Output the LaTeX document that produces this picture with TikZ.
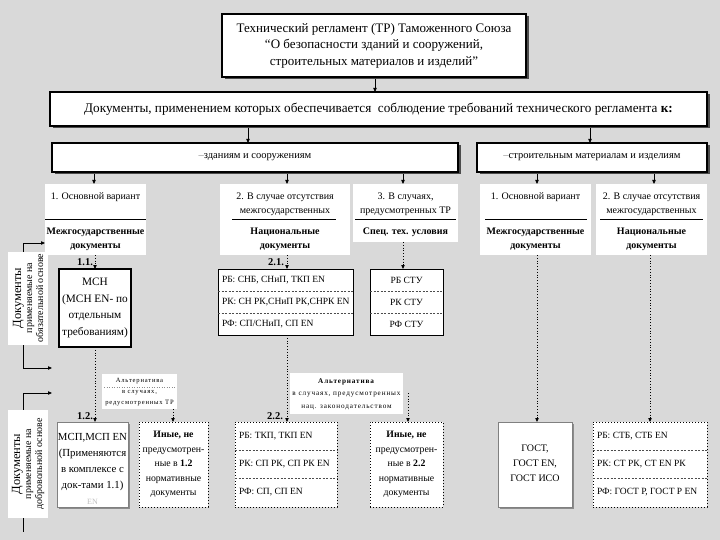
\documentclass[tikz,border=0pt]{standalone}
\usepackage{fontspec}
\setmainfont{Liberation Serif}
\usetikzlibrary{arrows.meta,shadows}
\definecolor{bgc}{RGB}{217,217,217}
\pgfdeclarelayer{bglayer}
\pgfdeclarelayer{linelayer}
\pgfsetlayers{bglayer,linelayer,main}
\newcommand{\myfs}[2]{\fontsize{#1}{#2}\selectfont}
\begin{document}
\begin{tikzpicture}[x=1pt,y=-1pt,
  every node/.style={inner sep=0pt, outer sep=0pt},
  shd/.style={drop shadow={shadow xshift=2.5pt, shadow yshift=-2.5pt, fill=black!70, opacity=1}},
  bigbox/.style={draw=black, line width=1.3pt, fill=white, shd},
  wbox/.style={fill=white},
  thinbox/.style={draw=black, line width=0.7pt, fill=white},
  greybox/.style={draw=black!50, line width=0.6pt, fill=white, drop shadow={shadow xshift=1.5pt, shadow yshift=-1.5pt, fill=black!45, opacity=1}},
  dbox/.style={draw=black, dotted, line width=1pt, fill=white},
  tip/.style={-{Triangle[length=4pt,width=3.4pt]}},
  sol/.style={tip, line width=0.8pt},
  dts/.style={tip, line width=0.8pt, dotted},
  sepl/.style={line width=0.7pt},
  dsep/.style={dashed, dash pattern=on 2pt off 1.5pt, line width=0.5pt, black!70},
  tx/.style={font=\myfs{10}{14}, align=center},
  numlab/.style={font=\bfseries\myfs{10.5}{12}},
  altx/.style={font=\addfontfeature{LetterSpace=12}\myfs{6.6}{11}, align=center},
]
\useasboundingbox (0,0) rectangle (720,540);
\begin{pgfonlayer}{bglayer}
  \fill[bgc] (0,0) rectangle (720,540);
\end{pgfonlayer}

% ---------- top boxes ----------
\node[bigbox, minimum width=304, minimum height=63] (top) at (374,45.5) {};
\node[font=\myfs{13}{16.5}, align=center] (toptext) at (top) {Технический регламент (ТР) Таможенного Союза\\“О безопасности зданий и сооружений,\\строительных материалов и изделий”};

\node[bigbox, minimum width=657, minimum height=34, font=\myfs{13.2}{15}] (doc) at (378.5,109)
  {Документы, применением которых обеспечивается\ \ соблюдение требований технического регламента \textbf{к:}};

\node[bigbox, minimum width=406, minimum height=29, font=\myfs{10.5}{12}] (hl) at (255,157.5) {{\color{black!45}–}зданиям и сооружениям};
\node[bigbox, minimum width=230, minimum height=29, font=\myfs{10.5}{12}] (hr) at (592,157.5) {{\color{black!45}–}строительным материалам и изделиям};

% ---------- variant boxes ----------
\node[wbox, minimum width=101, minimum height=71] (vA) at (95.5,219.5) {};
\node[tx] (vAt) at (95.5,197) {1. Основной вариант};
\draw[sepl] (45,219) -- (146,219);
\node[tx, font=\bfseries\myfs{10}{14}] (vAb) at (95.5,239) {Межгосударственные\\документы};

\node[wbox, minimum width=130, minimum height=71] (vB) at (285,219.5) {};
\node[tx] (vBt) at (285,204) {2. В случае отсутствия\\межгосударственных};
\draw[sepl] (232,219) -- (336,219);
\node[tx, font=\bfseries\myfs{10}{14}] (vBb) at (285,239) {Национальные\\документы};

\node[wbox, minimum width=105, minimum height=58] (vC) at (405.5,213) {};
\node[tx] (vCt) at (405.5,204) {3. В случаях,\\предусмотренных ТР};
\draw[sepl] (355,219) -- (456,219);
\node[tx, font=\bfseries\myfs{10}{14}] (vCb) at (405.5,232) {Спец. тех. условия};

\node[wbox, minimum width=111, minimum height=71] (vD) at (535.5,219.5) {};
\node[tx] (vDt) at (535.5,197) {1. Основной вариант};
\draw[sepl] (485,219) -- (587,219);
\node[tx, font=\bfseries\myfs{10}{14}] (vDb) at (535.5,239) {Межгосударственные\\документы};

\node[wbox, minimum width=111, minimum height=71] (vE) at (651.5,219.5) {};
\node[tx] (vEt) at (651.5,204) {2. В случае отсутствия\\межгосударственных};
\draw[sepl] (600,219) -- (703,219);
\node[tx, font=\bfseries\myfs{10}{14}] (vEb) at (651.5,239) {Национальные\\документы};

% ---------- second level ----------
\node[draw=black, line width=1.5pt, fill=white, minimum width=72, minimum height=78] (mch) at (95,308) {};
\node[tx, font=\myfs{11.3}{16.5}] (mcht) at (95,308) {МСН\\(МСН EN- по\\отдельным\\требованиям)};
\node[numlab] (l11) at (85,262) {1.1.};

\node[thinbox, minimum width=135, minimum height=66] (b21) at (285.5,302) {};
\draw[dsep] (218,291) -- (353,291);
\draw[dsep] (218,313) -- (353,313);
\node[font=\myfs{9.5}{12}, anchor=west] (b21a) at (222,280) {РБ: СНБ, СНиП, ТКП EN};
\node[font=\myfs{9.5}{12}, anchor=west] (b21b) at (222,302) {РК: СН РК,СНиП РК,СНРК EN};
\node[font=\myfs{9.5}{12}, anchor=west] (b21c) at (222,324) {РФ: СП/СНиП, СП EN};
\node[numlab] (l21) at (276,262) {2.1.};

\node[thinbox, minimum width=73, minimum height=66] (stu) at (406.5,302) {};
\draw[dsep] (370,291) -- (443,291);
\draw[dsep] (370,313) -- (443,313);
\node[font=\myfs{9.5}{12}] (stua) at (406.5,280) {РБ СТУ};
\node[font=\myfs{9.5}{12}] (stub) at (406.5,302) {РК СТУ};
\node[font=\myfs{9.5}{12}] (stuc) at (406.5,324) {РФ СТУ};

% ---------- left labels ----------
\node[wbox, rotate=90, minimum width=93, minimum height=40] (lab1) at (28,298) {};
\node[rotate=90, align=center, font=\myfs{10}{11}] (lab1t) at (28,298) {{\myfs{12.5}{13}Документы}\\применяемые на\\обязательной основе};
\node[wbox, rotate=90, minimum width=108, minimum height=40] (lab2) at (28,464) {};
\node[rotate=90, align=center, font=\myfs{10}{11}] (lab2t) at (28,464) {{\myfs{12.5}{13}Документы}\\применяемые на\\добровольной основе};

% ---------- alternatives ----------
\node[wbox, minimum width=75, minimum height=35] (alt1) at (139.5,391.5) {};
\node[altx] (alt1t) at (139.5,392) {Альтернатива\\в случаях,\\редусмотренных ТР};
\draw[dotted, black!45, line width=0.5pt] (104,387) -- (175,387);
\node[wbox, minimum width=113, minimum height=41] (alt2) at (346.5,393.5) {};
\node[altx, font=\addfontfeature{LetterSpace=12}\myfs{7.2}{12.5}] (alt2t) at (346.5,394) {\textbf{Альтернатива}\\в случаях, предусмотренных\\нац. законодательством};

% ---------- bottom level ----------
\node[greybox, minimum width=71, minimum height=85] (b12) at (92.5,464.5) {};
\node[tx, font=\myfs{10.8}{16}] (b12t) at (92.5,462) {МСП,МСП EN\\(Применяются\\в комплексе с\\док-тами 1.1)};
\node[font=\myfs{8}{9}, text=black!25] (b12en) at (92.5,502) {EN};
\node[numlab] (l12) at (85,416) {1.2.};

\node[dbox, minimum width=69, minimum height=85] (i12) at (173.5,464.5) {};
\node[tx, font=\myfs{9.8}{14.5}] (i12t) at (173.5,464.5) {\textbf{Иные, не}\\предусмотрен-\\ные в \textbf{1.2}\\нормативные\\документы};

\node[dbox, minimum width=102, minimum height=85] (b22) at (286,464.5) {};
\draw[dsep] (235,450) -- (337,450);
\draw[dsep] (235,478) -- (337,478);
\node[font=\myfs{9.5}{12}, anchor=west] (b22a) at (239,436) {РБ: ТКП, ТКП EN};
\node[font=\myfs{9.5}{12}, anchor=west] (b22b) at (239,464) {РК: СП РК, СП РК EN};
\node[font=\myfs{9.5}{12}, anchor=west] (b22c) at (239,492) {РФ: СП, СП EN};
\node[numlab] (l22) at (275,416) {2.2.};

\node[dbox, minimum width=73, minimum height=85] (i22) at (406.5,464.5) {};
\node[tx, font=\myfs{9.8}{14.5}] (i22t) at (406.5,464.5) {\textbf{Иные, не}\\предусмотрен-\\ные в \textbf{2.2}\\нормативные\\документы};

\node[greybox, minimum width=74, minimum height=85] (gost) at (535,464.5) {};
\node[tx, font=\myfs{10}{15}] (gostt) at (535,463) {ГОСТ,\\ГОСТ EN,\\ГОСТ ИСО};

\node[dbox, minimum width=114, minimum height=85] (bE) at (650,464.5) {};
\draw[dsep] (593,450) -- (707,450);
\draw[dsep] (593,478) -- (707,478);
\node[font=\myfs{9.5}{12}, anchor=west] (bEa) at (597,436) {РБ: СТБ, СТБ EN};
\node[font=\myfs{9.5}{12}, anchor=west] (bEb) at (597,464) {РК: СТ РК, СТ EN РК};
\node[font=\myfs{9.5}{12}, anchor=west] (bEc) at (597,492) {РФ: ГОСТ Р, ГОСТ Р EN};

% ---------- free coordinates ----------
\coordinate (br1top) at (23,243);
\coordinate (br1bot) at (23,368);
\coordinate (br1end) at (52,368);
\coordinate (br2top) at (23,393);
\coordinate (br2end) at (52,393);
\coordinate (br2bot) at (23,532);
\coordinate (a2s) at (408,393);

% ---------- connectors ----------
\begin{pgfonlayer}{linelayer}
  \draw[sol] (top.south -| 375,0) -- (doc.north -| 375,0);
  \draw[sol] (doc.south -| 248,0) -- (hl.north -| 248,0);
  \draw[sol] (doc.south -| 590,0) -- (hr.north -| 590,0);
  \draw[sol] (hl.south -| 94,0) -- (vA.north -| 94,0);
  \draw[sol] (hl.south -| 287,0) -- (vB.north -| 287,0);
  \draw[sol] (hl.south -| 403,0) -- (vC.north -| 403,0);
  \draw[sol] (hr.south -| 537,0) -- (vD.north -| 537,0);
  \draw[sol] (hr.south -| 654,0) -- (vE.north -| 654,0);

  \draw[dts] (vA.south -| 95,0) -- (mch.north -| 95,0);
  \draw[dts] (vB.south -| 287,0) -- (b21.north -| 287,0);
  \draw[dts] (vC.south -| 403,0) -- (stu.north -| 403,0);
  \draw[dts] (mch.south -| 95,0) -- (b12.north -| 95,0);
  \draw[dts] (b21.south -| 287,0) -- (b22.north -| 287,0);
  \draw[dts] (alt1.south -| 173,0) -- (i12.north -| 173,0);
  \draw[dts] (a2s) -- (i22.north -| 408,0);
  \draw[dts] (vD.south -| 537,0) -- (gost.north -| 537,0);
  \draw[dts] (vE.south -| 650,0) -- (bE.north -| 650,0);

  \draw[line width=0.8pt] (br1top) -- (br1bot);
  \draw[sol] (br1top) -- (vA.west |- br1top);
  \draw[sol] (br1bot) -- (br1end);
  \draw[sol] (br2top) -- (br2end);
  \draw[line width=0.8pt] (br2top) -- (br2bot);
\end{pgfonlayer}
\end{tikzpicture}
\end{document}
